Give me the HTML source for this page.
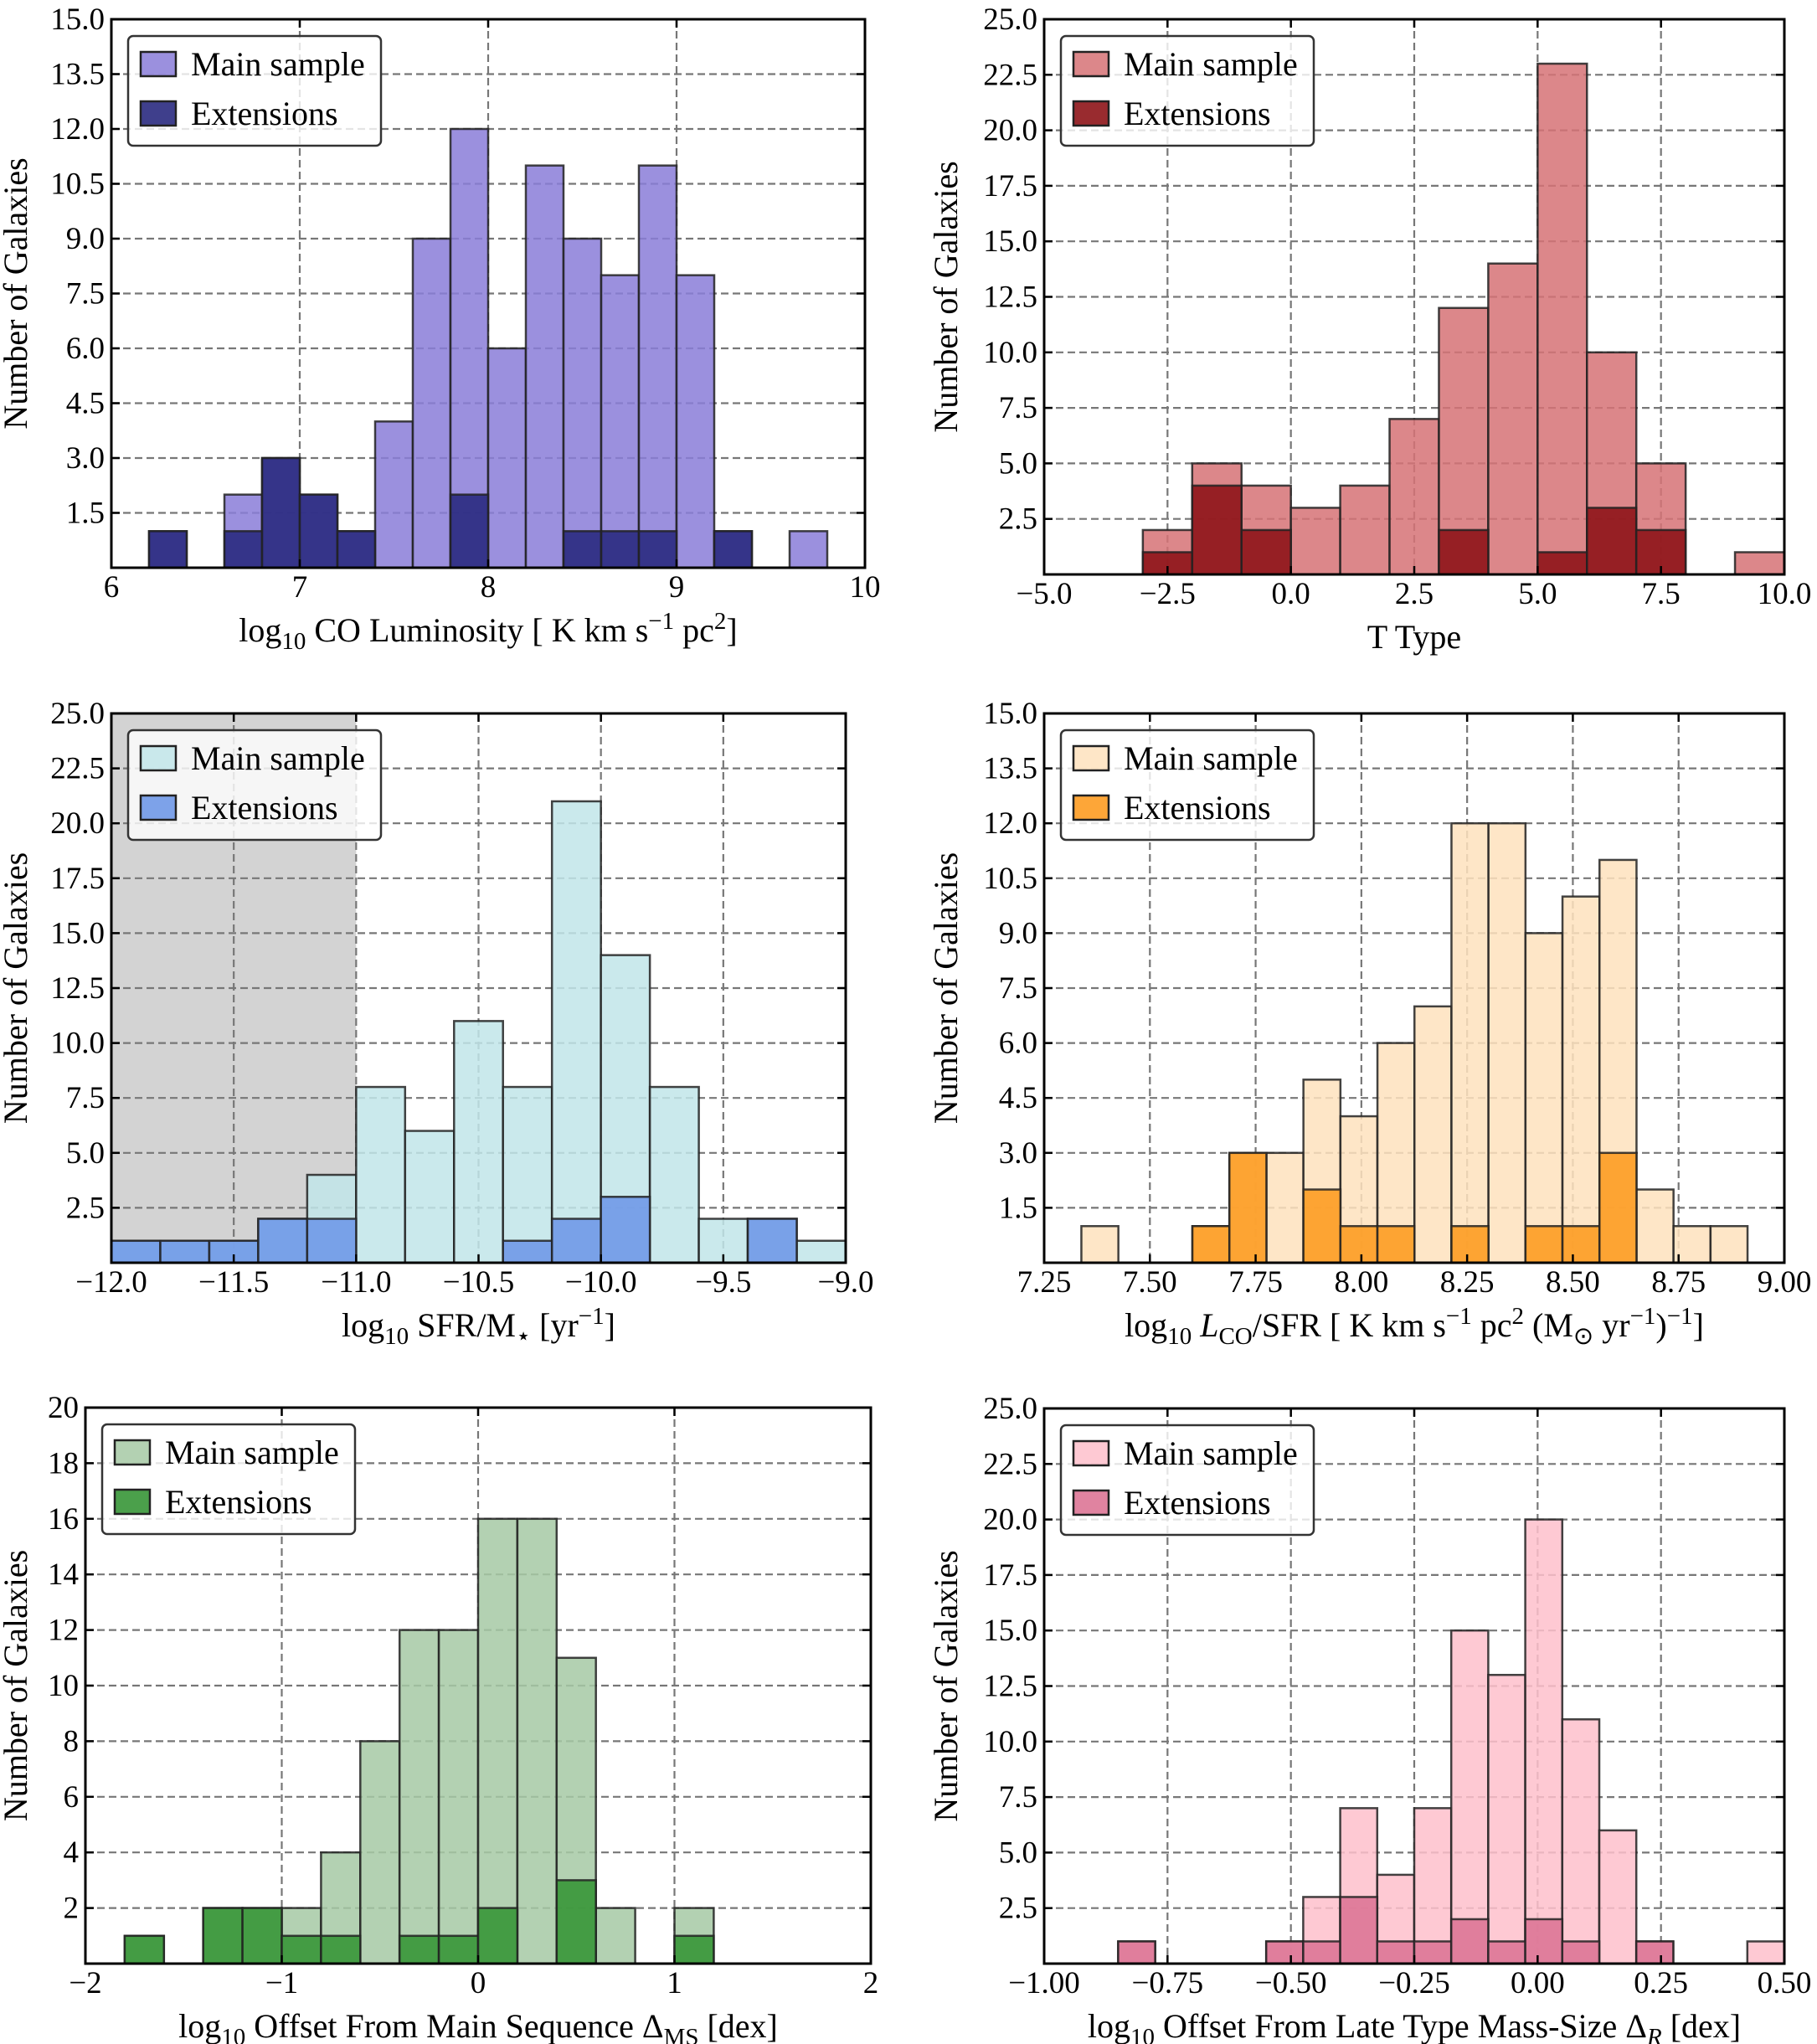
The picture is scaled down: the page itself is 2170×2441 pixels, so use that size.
<!DOCTYPE html>
<html><head><meta charset="utf-8"><style>
html,body{margin:0;padding:0;background:#fff;}
svg{display:block;}
text{font-family:"Liberation Serif",serif;fill:#000;}
</style></head><body>
<svg id="fig" width="2170" height="2441" viewBox="0 0 2170 2441" xmlns="http://www.w3.org/2000/svg"></svg>
<script>
// Panel 1: CO luminosity
const co_start = 6.2, co_width = 0.2;
const co_main = [1,0,2,3,2,1,4,9,12,6,11,9,8,11,8,1,0,1];
const co_ext  = [1,0,1,3,2,1,0,0,2,0,0,1,1,1,0,1,0,0];
const co_xticks = [6,7,8,9,10];
const co_xlabels = ['6','7','8','9','10'];
const co_yticks = [1.5,3.0,4.5,6.0,7.5,9.0,10.5,12.0,13.5,15.0];
// Panel 2: T type
const tt_start = -3, tt_width = 1;
const tt_main = [2,5,4,3,4,7,12,14,23,10,5,0,1];
const tt_ext  = [1,4,2,0,0,0,2,0,1,3,2,0,0];
const tt_xticks = [-5,-2.5,0,2.5,5,7.5,10];
const tt_xlabels = ['\u22125.0','\u22122.5','0.0','2.5','5.0','7.5','10.0'];
const tt_yticks = [2.5,5,7.5,10,12.5,15,17.5,20,22.5,25];
// Panel 3: sSFR
const ss_start = -12, ss_width = 0.2;
const ss_main = [1,1,1,2,4,8,6,11,8,21,14,8,2,2,1];
const ss_ext  = [1,1,1,2,2,0,0,0,1,2,3,0,0,2,0];
const ss_xticks = [-12,-11.5,-11,-10.5,-10,-9.5,-9];
const ss_xlabels = ['\u221212.0','\u221211.5','\u221211.0','\u221210.5','\u221210.0','\u22129.5','\u22129.0'];
const ss_yticks = [2.5,5,7.5,10,12.5,15,17.5,20,22.5,25];
// Panel 4: LCO/SFR
const lc_start = 7.338, lc_width = 0.0875;
const lc_main = [1,0,0,1,3,3,5,4,6,7,12,12,9,10,11,2,1,1];
const lc_ext  = [0,0,0,1,3,0,2,1,1,0,1,0,1,1,3,0,0,0];
const lc_xticks = [7.25,7.5,7.75,8,8.25,8.5,8.75,9];
const lc_xlabels = ['7.25','7.50','7.75','8.00','8.25','8.50','8.75','9.00'];
const lc_yticks = [1.5,3.0,4.5,6.0,7.5,9.0,10.5,12.0,13.5,15.0];
// Panel 5: main sequence offset
const ms_start = -1.8, ms_width = 0.2;
const ms_main = [1,0,2,2,2,4,8,12,12,16,16,11,2,0,2];
const ms_ext  = [1,0,2,2,1,1,0,1,1,2,0,3,0,0,1];
const ms_xticks = [-2,-1,0,1,2];
const ms_xlabels = ['\u22122','\u22121','0','1','2'];
const ms_yticks = [2,4,6,8,10,12,14,16,18,20];
// Panel 6: mass-size offset
const dr_start = -0.85, dr_width = 0.075;
const dr_main = [1,0,0,0,1,3,7,4,7,15,13,20,11,6,1,0,0,1];
const dr_ext  = [1,0,0,0,1,1,3,1,1,2,1,2,1,0,1,0,0,0];
const dr_xticks = [-1,-0.75,-0.5,-0.25,0,0.25,0.5];
const dr_xlabels = ['\u22121.00','\u22120.75','\u22120.50','\u22120.25','0.00','0.25','0.50'];
const dr_yticks = [2.5,5,7.5,10,12.5,15,17.5,20,22.5,25];

const NS='http://www.w3.org/2000/svg';
const fig=document.getElementById('fig');
function mk(tag,attrs,parent,text){const e=document.createElementNS(NS,tag);for(const k in attrs)e.setAttribute(k,attrs[k]);if(text!==undefined)e.textContent=text;(parent||fig).appendChild(e);return e;}

function panel(cfg){
  const g=mk('g',{});
  
  
  const X=v=>cfg.x0+(v-cfg.xmin)/(cfg.xmax-cfg.xmin)*(cfg.x1-cfg.x0);
  const Y=v=>cfg.y1-v/cfg.ymax*(cfg.y1-cfg.y0);
  if(cfg.shade){
    const s=mk('rect',{x:X(cfg.shade[0]),y:cfg.y0,width:X(cfg.shade[1])-X(cfg.shade[0]),height:cfg.y1-cfg.y0,fill:'#d3d3d3'},g);
    
    
  }
  cfg.xticks.forEach(t=>{const l=mk('line',{x1:X(t),x2:X(t),y1:cfg.y0,y2:cfg.y1,stroke:'#777','stroke-width':2.2,'stroke-dasharray':'9,5'},g);
    
    });
  cfg.yticks.forEach(t=>{const l=mk('line',{x1:cfg.x0,x2:cfg.x1,y1:Y(t),y2:Y(t),stroke:'#777','stroke-width':2.2,'stroke-dasharray':'9,5'},g);
    
    });
  function bars(vals,color,op,nm){
    vals.forEach((v,i)=>{ if(v<=0) return;
      const a=cfg.start+i*cfg.width, b=a+cfg.width;
      const r=mk('rect',{x:X(a),y:Y(v),width:X(b)-X(a),height:Y(0)-Y(v),fill:color,'fill-opacity':op,stroke:'#222','stroke-width':2.5,'stroke-opacity':0.85},g);
      
      
    });
  }
  bars(cfg.main,cfg.mc,0.85,'main-sample');
  bars(cfg.ext,cfg.ec,0.9,'extensions');
  const fr=mk('rect',{x:cfg.x0,y:cfg.y0,width:cfg.x1-cfg.x0,height:cfg.y1-cfg.y0,fill:'none',stroke:'#000','stroke-width':3},g);
  
  
  cfg.xticks.forEach((t,i)=>{
    mk('line',{x1:X(t),x2:X(t),y1:cfg.y1,y2:cfg.y1-10,stroke:'#000','stroke-width':2.5},g);
    mk('line',{x1:X(t),x2:X(t),y1:cfg.y0,y2:cfg.y0+10,stroke:'#000','stroke-width':2.5},g);
    const tx=mk('text',{x:X(t),y:cfg.y1+35,'text-anchor':'middle','font-size':37},g,cfg.xlabels[i]);
    
    
  });
  cfg.yticks.forEach(t=>{
    mk('line',{x1:cfg.x0,x2:cfg.x0+10,y1:Y(t),y2:Y(t),stroke:'#000','stroke-width':2.5},g);
    mk('line',{x1:cfg.x1,x2:cfg.x1-10,y1:Y(t),y2:Y(t),stroke:'#000','stroke-width':2.5},g);
    const lab=cfg.intY?String(t):t.toFixed(1);
    const ty=mk('text',{x:cfg.x0-8,y:Y(t)+12,'text-anchor':'end','font-size':37},g,lab);
    
    
  });
  const yl=mk('text',{x:0,y:0,'text-anchor':'middle','font-size':40,transform:`translate(${cfg.ylx},${(cfg.y0+cfg.y1)/2}) rotate(-90)`},g,'Number of Galaxies');
  
  
  const xl=mk('text',{x:(cfg.x0+cfg.x1)/2,y:cfg.y1+88,'text-anchor':'middle','font-size':40},g);
  xl.innerHTML=cfg.xlab;
  
  
  const lx=cfg.x0+20, ly=cfg.y0+20;
  const lg=mk('g',{},g);
  
  
  mk('rect',{x:lx,y:ly,width:302,height:131,rx:6,fill:'#fff','fill-opacity':0.8,stroke:'#333','stroke-width':2.5},lg);
  [[cfg.mc,0.85,'Main sample'],[cfg.ec,0.9,'Extensions']].forEach((e,i)=>{
    const yy=ly+19+i*59;
    const sw=mk('rect',{x:lx+15,y:yy,width:42,height:29,fill:e[0],'fill-opacity':e[1],stroke:'#222','stroke-width':2.5},lg);
    
    
    const lt=mk('text',{x:lx+75,y:yy+28,'font-size':40},lg,e[2]);
    
    
  });
}
panel({name:'co-luminosity-panel',x0:133,x1:1033,y0:23,y1:678,xmin:6,xmax:10,ymax:15,start:co_start,width:co_width,main:co_main,ext:co_ext,
  xticks:co_xticks,xlabels:co_xlabels,yticks:co_yticks,mc:'#8a7cd8',ec:'#2a2a7f',ylx:32,
  xlab:'log<tspan font-size="29" dy="9">10</tspan><tspan dy="-9"> CO Luminosity [ K km s</tspan><tspan font-size="29" dy="-15">\u22121</tspan><tspan dy="15"> pc</tspan><tspan font-size="29" dy="-15">2</tspan><tspan dy="15">]</tspan>'});
panel({name:'t-type-panel',x0:1247,x1:2131,y0:23,y1:686,xmin:-5,xmax:10,ymax:25,start:tt_start,width:tt_width,main:tt_main,ext:tt_ext,
  xticks:tt_xticks,xlabels:tt_xlabels,yticks:tt_yticks,mc:'#d67276',ec:'#8e1418',ylx:1143,xlab:'T Type'});
panel({name:'ssfr-panel',x0:133,x1:1010,y0:852,y1:1508,xmin:-12,xmax:-9,ymax:25,start:ss_start,width:ss_width,main:ss_main,ext:ss_ext,
  xticks:ss_xticks,xlabels:ss_xlabels,yticks:ss_yticks,mc:'#c1e5e9',ec:'#7099e8',ylx:32,shade:[-12,-11],
  xlab:'log<tspan font-size="29" dy="9">10</tspan><tspan dy="-9"> SFR/M</tspan><tspan font-size="29" dy="9">\u22C6</tspan><tspan dy="-9"> [yr</tspan><tspan font-size="29" dy="-15">\u22121</tspan><tspan dy="15">]</tspan>'});
panel({name:'lco-sfr-panel',x0:1247,x1:2131,y0:852,y1:1508,xmin:7.25,xmax:9,ymax:15,start:lc_start,width:lc_width,main:lc_main,ext:lc_ext,
  xticks:lc_xticks,xlabels:lc_xlabels,yticks:lc_yticks,mc:'#fee2bd',ec:'#fd9c22',ylx:1143,
  xlab:'log<tspan font-size="29" dy="9">10</tspan><tspan dy="-9"> </tspan><tspan font-style="italic">L</tspan><tspan font-size="29" dy="9">CO</tspan><tspan dy="-9">/SFR [ K km s</tspan><tspan font-size="29" dy="-15">\u22121</tspan><tspan dy="15"> pc</tspan><tspan font-size="29" dy="-15">2</tspan><tspan dy="15"> (M</tspan><tspan font-size="29" dy="9">\u2299</tspan><tspan dy="-9"> yr</tspan><tspan font-size="29" dy="-15">\u22121</tspan><tspan dy="15">)</tspan><tspan font-size="29" dy="-15">\u22121</tspan><tspan dy="15">]</tspan>'});
panel({name:'main-sequence-offset-panel',x0:102,x1:1040,y0:1681,y1:2345,xmin:-2,xmax:2,ymax:20,start:ms_start,width:ms_width,main:ms_main,ext:ms_ext,
  xticks:ms_xticks,xlabels:ms_xlabels,yticks:ms_yticks,mc:'#a6c9a4',ec:'#379637',ylx:32,intY:true,
  xlab:'log<tspan font-size="29" dy="9">10</tspan><tspan dy="-9"> Offset From Main Sequence \u0394</tspan><tspan font-size="29" dy="9">MS</tspan><tspan dy="-9"> [dex]</tspan>'});
panel({name:'mass-size-offset-panel',x0:1247,x1:2131,y0:1682,y1:2345,xmin:-1,xmax:0.5,ymax:25,start:dr_start,width:dr_width,main:dr_main,ext:dr_ext,
  xticks:dr_xticks,xlabels:dr_xlabels,yticks:dr_yticks,mc:'#fec0cb',ec:'#dd7596',ylx:1143,
  xlab:'log<tspan font-size="29" dy="9">10</tspan><tspan dy="-9"> Offset From Late Type Mass-Size \u0394</tspan><tspan font-size="29" dy="9" font-style="italic">R</tspan><tspan dy="-9"> [dex]</tspan>'});
</script>
</body></html>
